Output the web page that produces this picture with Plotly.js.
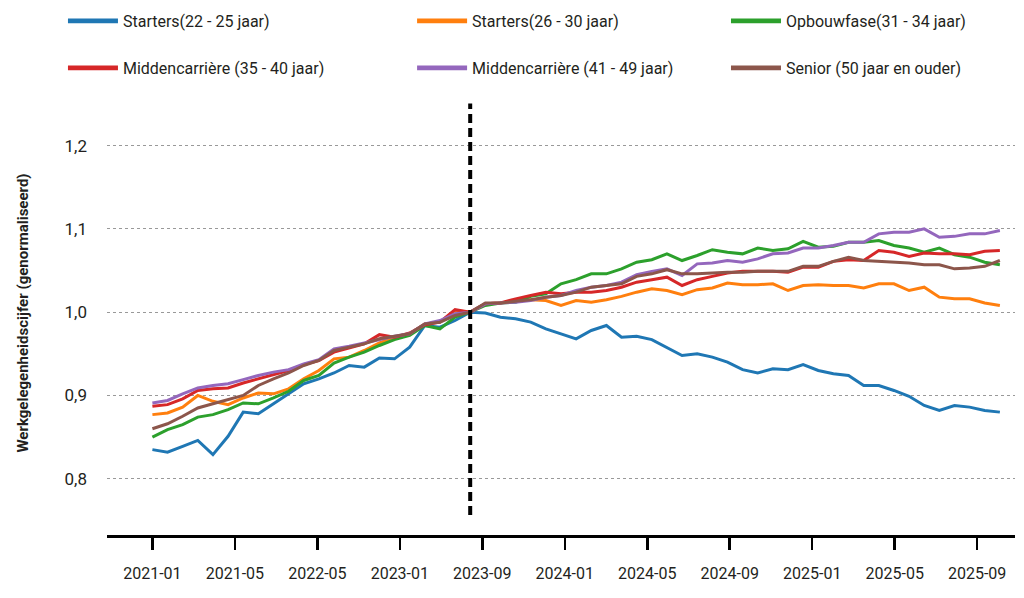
<!DOCTYPE html>
<html>
<head>
<meta charset="utf-8">
<script src="https://cdn.plot.ly/plotly-3.0.1.min.js"></script>
<style>
  html, body { margin: 0; padding: 0; background: #ffffff; }
  #chart { width: 1024px; height: 598px; }
</style>
</head>
<body>
<div id="chart"></div>
<script>
// Tick labels shown along the x axis
const tickLabels = ['2021-01','2021-05','2022-05','2023-01','2023-09','2024-01','2024-05','2024-09','2025-01','2025-05','2025-09'];

// Series names
const seriesNames = [
  'Starters(22 - 25 jaar)',
  'Starters(26 - 30 jaar)',
  'Opbouwfase(31 - 34 jaar)',
  'Middencarrière (35 - 40 jaar)',
  'Middencarrière (41 - 49 jaar)',
  'Senior (50 jaar en ouder)'
];

// Normalised employment values (57 periods each)
const starters2225 = [0.835,0.832,0.839,0.846,0.829,0.851,0.880,0.878,0.890,0.902,0.914,0.920,0.927,0.936,0.934,0.945,0.944,0.958,0.984,0.982,0.990,1.000,0.999,0.994,0.992,0.988,0.980,0.974,0.968,0.978,0.984,0.970,0.971,0.967,0.958,0.948,0.950,0.946,0.940,0.931,0.927,0.932,0.931,0.937,0.930,0.926,0.924,0.912,0.912,0.906,0.899,0.888,0.882,0.888,0.886,0.882,0.880];
const starters2630 = [0.877,0.879,0.886,0.900,0.893,0.889,0.897,0.903,0.902,0.908,0.920,0.930,0.944,0.946,0.954,0.963,0.970,0.974,0.986,0.988,1.002,1.000,1.010,1.011,1.014,1.015,1.014,1.008,1.014,1.012,1.015,1.019,1.024,1.028,1.026,1.021,1.027,1.029,1.035,1.033,1.033,1.034,1.026,1.032,1.033,1.032,1.032,1.029,1.034,1.034,1.026,1.030,1.018,1.016,1.016,1.011,1.008];
const opbouw3134 = [0.850,0.859,0.865,0.874,0.877,0.883,0.891,0.890,0.897,0.905,0.918,0.924,0.939,0.946,0.952,0.960,0.967,0.972,0.984,0.980,0.994,1.000,1.008,1.011,1.012,1.019,1.022,1.034,1.039,1.046,1.046,1.052,1.060,1.063,1.070,1.062,1.068,1.075,1.072,1.070,1.077,1.074,1.076,1.085,1.078,1.079,1.084,1.084,1.086,1.080,1.077,1.072,1.077,1.069,1.066,1.060,1.057];
const midden3540 = [0.887,0.889,0.896,0.906,0.908,0.909,0.915,0.920,0.925,0.930,0.937,0.942,0.952,0.957,0.962,0.973,0.970,0.975,0.985,0.988,1.003,1.000,1.010,1.011,1.016,1.020,1.024,1.022,1.024,1.024,1.026,1.030,1.036,1.039,1.042,1.032,1.039,1.043,1.047,1.049,1.049,1.049,1.048,1.054,1.054,1.061,1.063,1.062,1.074,1.072,1.067,1.071,1.070,1.070,1.069,1.073,1.074];
const midden4149 = [0.891,0.894,0.902,0.909,0.912,0.914,0.919,0.924,0.928,0.931,0.938,0.943,0.956,0.959,0.963,0.967,0.971,0.974,0.986,0.990,0.998,1.000,1.010,1.011,1.012,1.014,1.018,1.020,1.026,1.030,1.032,1.036,1.045,1.049,1.052,1.044,1.058,1.059,1.062,1.060,1.064,1.070,1.071,1.077,1.077,1.080,1.084,1.084,1.094,1.096,1.096,1.100,1.090,1.091,1.094,1.094,1.098];
const senior50 = [0.860,0.866,0.875,0.885,0.890,0.895,0.900,0.912,0.920,0.927,0.936,0.942,0.954,0.958,0.962,0.968,0.971,0.974,0.986,0.988,0.996,1.000,1.011,1.011,1.013,1.015,1.018,1.020,1.024,1.030,1.032,1.034,1.043,1.046,1.051,1.046,1.046,1.047,1.048,1.048,1.049,1.049,1.049,1.055,1.055,1.061,1.066,1.062,1.061,1.060,1.059,1.057,1.057,1.052,1.053,1.055,1.062];

const seriesValues = [starters2225, starters2630, opbouw3134, midden3540, midden4149, senior50];
const colors = ['#1f77b4','#ff7f0e','#2ca02c','#d62728','#9467bd','#8c564b'];

const periodIndex = starters2225.map((_, i) => i);
const normIndex = starters2225.indexOf(1.0);
const tickStep = 5.45;

const FONT = 'Roboto, "Noto Sans", sans-serif';
const TXT = '#231f20';

const traces = [];
seriesValues.forEach((vals, k) => {
  traces.push({
    x: periodIndex, y: vals, type: 'scatter', mode: 'lines',
    name: seriesNames[k], showlegend: false,
    line: { color: colors[k], width: 3 }
  });
});
// legend entries (thicker line samples), one legend per entry
const legendIds = ['legend','legend2','legend3','legend4','legend5','legend6'];
seriesNames.forEach((nm, k) => {
  traces.push({
    x: [null], y: [null], type: 'scatter', mode: 'lines',
    name: nm, showlegend: true, legend: legendIds[k],
    line: { color: colors[k], width: 4.8 }
  });
});

const colX = [-0.0485, 0.336, 0.6817];
const rowY = [1.1577, 1.0518];
const layout = {
  width: 1024, height: 598,
  margin: { l: 107, r: 9, t: 91, b: 63, autoexpand: false },
  paper_bgcolor: '#ffffff', plot_bgcolor: '#ffffff',
  font: { family: FONT, size: 16, color: TXT },
  separators: ',.',
  showlegend: true,
  xaxis: {
    range: [-3, 57],
    tickvals: tickLabels.map((_, k) => k * tickStep),
    ticktext: tickLabels,
    showgrid: false, zeroline: false,
    showline: true, linecolor: '#000', linewidth: 2.5,
    ticks: 'outside', ticklen: 12, tickwidth: 2.5, tickcolor: '#000',
    ticklabelstandoff: 10,
    tickfont: { family: FONT, size: 16, color: TXT },
    automargin: false,
    fixedrange: true
  },
  yaxis: {
    range: [0.7325, 1.2655],
    tickvals: [0.8, 0.9, 1.0, 1.1, 1.2],
    tickformat: '.1f',
    showgrid: true, gridcolor: '#999999', gridwidth: 1, griddash: '3px,3px',
    zeroline: false, showline: false, ticks: '',
    ticklabelstandoff: 19,
    tickfont: { family: FONT, size: 17, color: TXT },
    title: { text: 'Werkgelegenheidscijfer (genormaliseerd)', standoff: 32,
             font: { family: FONT, size: 15, color: TXT, weight: 'bold' } },
    automargin: false,
    fixedrange: true
  },
  shapes: [{
    type: 'line', xref: 'x', yref: 'y',
    x0: normIndex, x1: normIndex, y0: 0.7566, y1: 1.2506,
    line: { color: '#000', width: 4, dash: '9px,5px' }
  }]
};
legendIds.forEach((id, k) => {
  layout[id] = {
    x: colX[k % 3], y: rowY[Math.floor(k / 3)],
    xanchor: 'left', yanchor: 'middle',
    orientation: 'v', bgcolor: 'rgba(0,0,0,0)', borderwidth: 0,
    itemwidth: 50,
    font: { family: FONT, size: 16, color: TXT }
  };
});

Plotly.newPlot('chart', traces, layout, { displayModeBar: false, staticPlot: true });
</script>
</body>
</html>
